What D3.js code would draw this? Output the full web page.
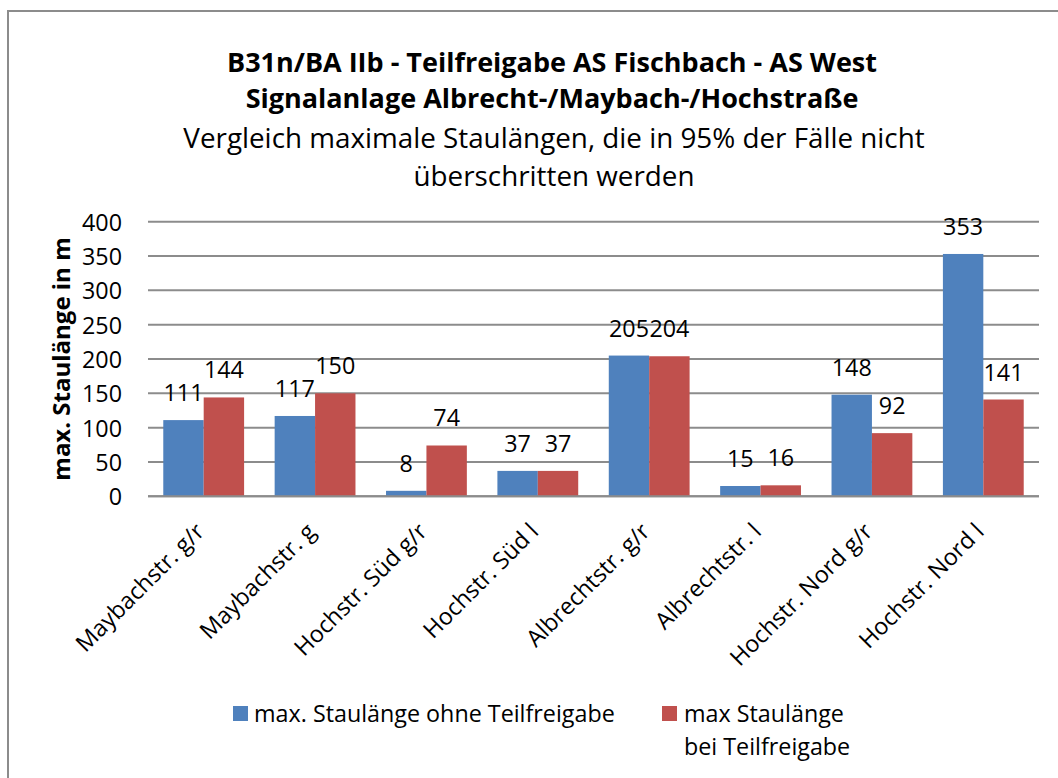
<!DOCTYPE html>
<html>
<head>
<meta charset="utf-8">
<script src="https://cdn.jsdelivr.net/npm/d3@7"></script>
<style>
    body { margin: 0; background: #fff; }
    text { font-family: "Open Sans", "Noto Sans", sans-serif; fill: #000; }
</style>
</head>
<body id="body">
<script>
var categories = ["Maybachstr. g/r", "Maybachstr. g", "Hochstr. Süd g/r", "Hochstr. Süd l",
    "Albrechtstr. g/r", "Albrechtstr. l", "Hochstr. Nord g/r", "Hochstr. Nord l"];
var seriesNames = ["max. Staulänge ohne Teilfreigabe", "max Staulänge bei Teilfreigabe"];
var ohneTeilfreigabe = [111, 117, 8, 37, 205, 15, 148, 353];
var beiTeilfreigabe = [144, 150, 74, 37, 204, 16, 92, 141];
var yTicks = [0, 50, 100, 150, 200, 250, 300, 350, 400];
var titleLines = ["B31n/BA IIb - Teilfreigabe AS Fischbach - AS West",
    "Signalanlage Albrecht-/Maybach-/Hochstraße"];
var subtitleLines = ["Vergleich maximale Staulängen, die in 95% der Fälle nicht",
    "überschritten werden"];

var width = 1058,
    height = 778;
var plot = { left: 148, right: 1039, top: 221.7, bottom: 496.3 };
var colors = ["#4F81BD", "#C0504D"];
var fontSize = "23.3px";

var svg = d3.select("body").append("svg")
    .attr("width", width)
    .attr("height", height);

// Rahmen
svg.append("rect")
    .attr("x", 8).attr("y", 11)
    .attr("width", 1100).attr("height", 800)
    .attr("fill", "#fff")
    .attr("stroke", "#8c8c8c")
    .attr("stroke-width", 2);

// Titel
svg.selectAll(".title")
    .data(titleLines)
    .enter().append("text")
    .attr("class", "title")
    .attr("x", 552)
    .attr("y", function (d, i) { return [72, 108][i]; })
    .attr("text-anchor", "middle")
    .style("font-weight", "bold")
    .style("font-size", "27px")
    .text(function (d) { return d; });

svg.selectAll(".subtitle")
    .data(subtitleLines)
    .enter().append("text")
    .attr("class", "subtitle")
    .attr("x", 554)
    .attr("y", function (d, i) { return [148, 186][i]; })
    .attr("text-anchor", "middle")
    .style("font-size", "27.8px")
    .text(function (d) { return d; });

var y = d3.scaleLinear()
    .domain([0, 400])
    .range([plot.bottom, plot.top]);

var x0 = d3.scaleBand()
    .domain(categories)
    .range([plot.left, plot.right])
    .padding(0);

var x1 = d3.scaleBand()
    .domain([0, 1])
    .range([0, x0.bandwidth()])
    .paddingInner(0)
    .paddingOuter(0.378);

// Gitternetz
svg.append("g")
    .selectAll("line")
    .data(yTicks)
    .enter().append("line")
    .attr("x1", plot.left)
    .attr("x2", plot.right)
    .attr("y1", function (d) { return y(d); })
    .attr("y2", function (d) { return y(d); })
    .attr("stroke", "#8c8c8c")
    .attr("stroke-width", 2);

// y-Achse
var yAxis = svg.append("g")
    .attr("transform", "translate(" + (plot.left - 26) + ",0)")
    .call(d3.axisLeft(y).tickValues(yTicks).tickSize(0).tickPadding(0));
yAxis.select(".domain").remove();
yAxis.selectAll("text")
    .style("font-family", "\"Open Sans\", sans-serif")
    .style("font-size", fontSize)
    .attr("dy", "0.36em");

svg.append("text")
    .attr("transform", "translate(70," + ((plot.top + plot.bottom) / 2) + ") rotate(-90)")
    .attr("text-anchor", "middle")
    .style("font-weight", "bold")
    .style("font-size", "24px")
    .text("max. Staulänge in m");

// Balken
var rows = categories.map(function (c, i) {
    return { cat: c, values: [ohneTeilfreigabe[i], beiTeilfreigabe[i]] };
});

var g = svg.selectAll(".group")
    .data(rows)
    .enter().append("g")
    .attr("class", "group")
    .attr("transform", function (d) { return "translate(" + x0(d.cat) + ",0)"; });

g.selectAll("rect")
    .data(function (d) { return d.values; })
    .enter().append("rect")
    .attr("x", function (d, i) { return x1(i); })
    .attr("width", x1.bandwidth())
    .attr("y", function (d) { return y(d); })
    .attr("height", function (d) { return y(0) - y(d); })
    .attr("fill", function (d, i) { return colors[i]; });

g.selectAll(".label")
    .data(function (d) { return d.values; })
    .enter().append("text")
    .attr("class", "label")
    .attr("x", function (d, i) { return x1(i) + x1.bandwidth() / 2; })
    .attr("y", function (d) { return y(d) - 19; })
    .attr("text-anchor", "middle")
    .style("font-size", fontSize)
    .text(function (d) { return d; });

// x-Achse
svg.append("line")
    .attr("x1", plot.left)
    .attr("x2", plot.right)
    .attr("y1", y(0))
    .attr("y2", y(0))
    .attr("stroke", "#8c8c8c")
    .attr("stroke-width", 2);

svg.selectAll(".xlabel")
    .data(categories)
    .enter().append("text")
    .attr("class", "xlabel")
    .attr("transform", function (d) {
        return "translate(" + (x0(d) + x0.bandwidth() / 2 + 2) + "," + 533 + ") rotate(-45)";
    })
    .attr("text-anchor", "end")
    .style("font-size", fontSize)
    .text(function (d) { return d; });

// Legende
var legend = svg.append("g");
var legendX = [233, 662];

legend.selectAll("rect")
    .data(seriesNames)
    .enter().append("rect")
    .attr("x", function (d, i) { return legendX[i]; })
    .attr("y", 706)
    .attr("width", 15)
    .attr("height", 15)
    .attr("fill", function (d, i) { return colors[i]; });

legend.append("text")
    .attr("x", 254)
    .attr("y", 722)
    .style("font-size", fontSize)
    .text(seriesNames[0]);

var second = legend.append("text")
    .attr("x", 684)
    .attr("y", 722)
    .style("font-size", fontSize);
second.append("tspan").attr("x", 684).text("max Staulänge");
second.append("tspan").attr("x", 684).attr("dy", 33).text("bei Teilfreigabe");
</script>
</body>
</html>
